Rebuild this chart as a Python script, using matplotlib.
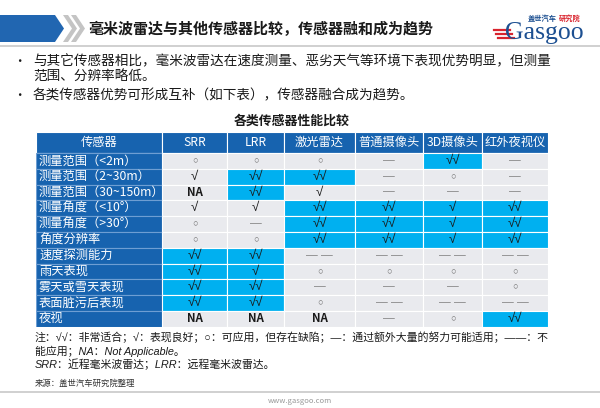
import matplotlib
matplotlib.use('Agg')
import matplotlib.pyplot as plt
from matplotlib.patches import Rectangle, Polygon

plt.rcParams['font.family'] = ['Noto Sans CJK SC', 'DejaVu Sans']
sym_font = ['Liberation Sans', 'Noto Sans CJK SC']

# ---- content ----
slide_title = '毫米波雷达与其他传感器比较，传感器融和成为趋势'
bullet_lines = ['与其它传感器相比，毫米波雷达在速度测量、恶劣天气等环境下表现优势明显，但测量',
                '范围、分辨率略低。',
                '各类传感器优势可形成互补（如下表），传感器融合成为趋势。']
bullet_marks = [True, False, True]
table_title = '各类传感器性能比较'
corner = '传感器'
sensors = ['SRR', 'LRR', '激光雷达', '普通摄像头', '3D摄像头', '红外夜视仪']
metrics = ['测量范围（<2m）', '测量范围（2~30m）', '测量范围（30~150m）',
           '测量角度（<10°）', '测量角度（>30°）', '角度分辨率', '速度探测能力',
           '雨天表现', '雾天或雪天表现', '表面脏污后表现', '夜视']
ratings = [
    ['○', '○', '○', '—', '√√', '—'],
    ['√', '√√', '√√', '—', '○', '—'],
    ['NA', '√√', '√', '—', '—', '—'],
    ['√', '√', '√√', '√√', '√', '√√'],
    ['○', '—', '√√', '√√', '√', '√√'],
    ['○', '○', '√√', '√√', '√', '√√'],
    ['√√', '√√', '— —', '— —', '— —', '— —'],
    ['√√', '√', '○', '○', '○', '○'],
    ['√√', '√√', '—', '—', '—', '○'],
    ['√√', '√√', '○', '— —', '— —', '— —'],
    ['NA', 'NA', 'NA', '—', '○', '√√'],
]
highlight = [
    [0, 0, 0, 0, 1, 0],
    [0, 1, 1, 0, 0, 0],
    [0, 1, 0, 0, 0, 0],
    [0, 0, 1, 1, 1, 1],
    [0, 0, 1, 1, 1, 1],
    [0, 0, 1, 1, 1, 1],
    [1, 1, 0, 0, 0, 0],
    [1, 1, 0, 0, 0, 0],
    [1, 1, 0, 0, 0, 0],
    [1, 1, 0, 0, 0, 0],
    [0, 0, 0, 0, 0, 1],
]
notes = ['注：√√：非常适合；√：表现良好；○：可应用，但存在缺陷；—：通过额外大量的努力可能适用；——：不',
         '能应用；NA：Not Applicable。',
         'SRR：近程毫米波雷达；LRR：远程毫米波雷达。']
source = '来源：盖世汽车研究院整理'
site = 'www.gasgoo.com'

# ---- layout / style ----
col_w = [126, 65, 57, 71, 68, 59, 66]
head_h = 21
row_h = 15.8
dark_blue = '#1763AF'
cyan = '#00B0F0'
light = '#E9EAEE'

fig = plt.figure(figsize=(6, 4.08), dpi=100)

# background layer in pixel units for the slide decoration
bg = fig.add_axes([0, 0, 1, 1])
bg.set_xlim(0, 600)
bg.set_ylim(408, 0)
bg.axis('off')

bg.add_patch(Polygon([(0, 15), (55, 15), (64, 28.5), (55, 42), (0, 42)],
                     closed=True, color='#2166B1', lw=0))
for x0 in (63, 71):
    bg.add_patch(Polygon([(x0, 15), (x0 + 5, 15), (x0 + 14, 28.5), (x0 + 5, 42),
                          (x0, 42), (x0 + 9, 28.5)], closed=True, color='#C4C4C4', lw=0))
bg.plot([0, 600], [45.5, 45.5], color='#C8C8C8', lw=1.2)
bg.plot([0, 600], [392, 392], color='#C8C8C8', lw=1.2)

bg.text(88, 28.5, slide_title, fontsize=10.8, fontweight='bold', color='#1a1a1a',
        va='center', ha='left')

# logo
bg.text(505, 33, 'Gasgoo', fontsize=18.5, family='Liberation Serif', color='#1C4F91',
        va='center', ha='left')
bg.text(528, 18, '盖世汽车', fontsize=5.2, color='#1C4F91', va='center', ha='left',
        fontweight='bold')
bg.text(559, 18, '研究院', fontsize=5.2, color='#D9232D', va='center', ha='left',
        fontweight='bold')
for k, yy in enumerate([30, 34, 38]):
    bg.plot([494 + k * 2, 510 + k * 2], [yy, yy], color='#D9232D', lw=1.6)

# bullets
for i, (line, mark) in enumerate(zip(bullet_lines, bullet_marks)):
    yy = [61, 77, 95][i]
    if mark:
        bg.text(19, yy, '•', fontsize=9, va='center', ha='center', color='#1a1a1a')
    bg.text(33, yy, line, fontsize=9.8, va='center', ha='left', color='#1a1a1a')

bg.text(292, 121, table_title, fontsize=9.3, fontweight='bold', va='center', ha='center',
        color='#1a1a1a')

# notes + source
for i, line in enumerate(notes):
    bg.text(35, [337, 351, 364][i], line, fontsize=7.85, va='center', ha='left',
            color='#1a1a1a', family=sym_font, style='italic')
bg.text(35, 383, source, fontsize=6, va='center', ha='left', color='#333333')
bg.text(300, 401, site, fontsize=5.5, va='center', ha='center', color='#999999')

# ---- table ----
total_w = sum(col_w)
total_h = head_h + row_h * len(metrics)
tab = fig.add_axes([36 / 600, 1 - (132 + total_h) / 408, total_w / 600, total_h / 408])
tab.set_xlim(0, total_w)
tab.set_ylim(total_h, 0)
tab.axis('off')

x_edges = [0]
for w in col_w:
    x_edges.append(x_edges[-1] + w)

# header row
header = [corner] + sensors
for j, lab in enumerate(header):
    tab.add_patch(Rectangle((x_edges[j], 0), col_w[j], head_h, facecolor=dark_blue,
                            edgecolor='white', lw=0.8))
    tab.text(x_edges[j] + col_w[j] / 2, head_h / 2, lab, fontsize=8.8, color='white',
             va='center', ha='center')

for i, metric in enumerate(metrics):
    y0 = head_h + i * row_h
    tab.add_patch(Rectangle((0, y0), col_w[0], row_h, facecolor=dark_blue,
                            edgecolor='#6E9ED3', lw=0.8))
    tab.text(3, y0 + row_h / 2, metric, fontsize=8.8, color='white', va='center', ha='left')
    for j, val in enumerate(ratings[i]):
        fc = cyan if highlight[i][j] else light
        tab.add_patch(Rectangle((x_edges[j + 1], y0), col_w[j + 1], row_h, facecolor=fc,
                                edgecolor='white', lw=0.8))
        cx = x_edges[j + 1] + col_w[j + 1] / 2
        cy = y0 + row_h / 2
        if val == '○':
            tab.text(cx, cy, val, fontsize=6.5, color='#707070', family=sym_font,
                     va='center', ha='center')
        elif '—' in val:
            tab.text(cx, cy, val, fontsize=8.5, color='#8a8a8a', family=sym_font,
                     va='center', ha='center')
        elif val == 'NA':
            tab.text(cx, cy, val, fontsize=8.3, color='#1a1a1a',
                     va='center', ha='center', fontweight='bold')
        else:
            tab.text(cx, cy, val, fontsize=9.5, color='#1a1a1a', family=sym_font,
                     va='center', ha='center')

fig.savefig('out.png', dpi=100)
